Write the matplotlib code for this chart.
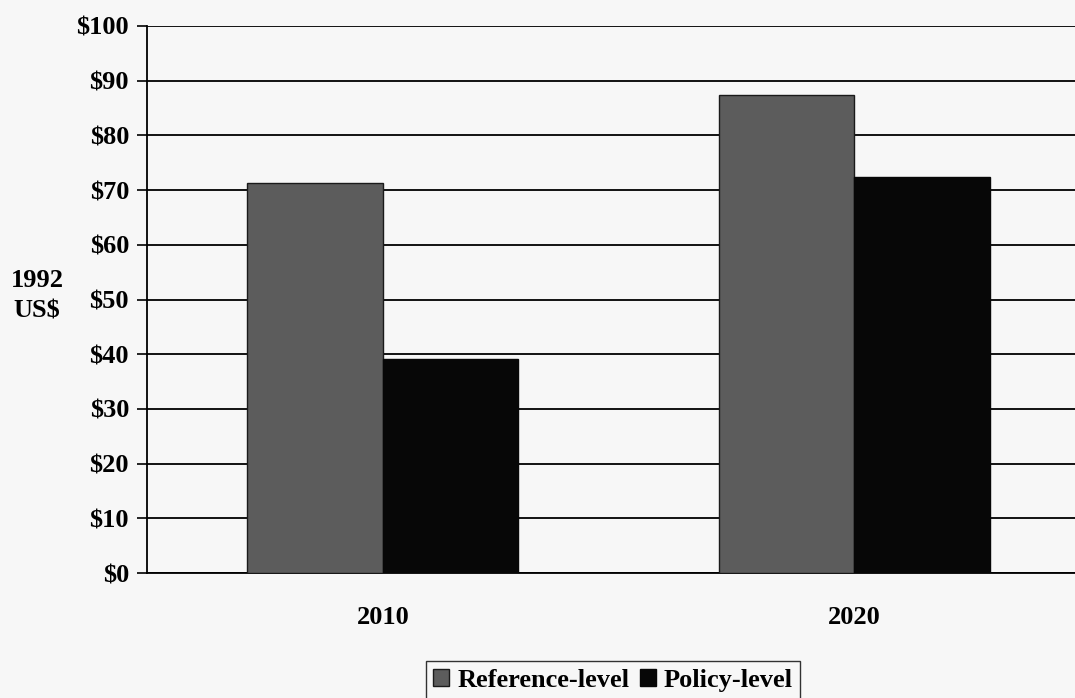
import matplotlib
matplotlib.use("Agg")
import matplotlib.pyplot as plt
import numpy as np

years = ["2010", "2020"]
reference_level = [71.3, 87.4]
policy_level = [39.1, 72.4]
y_ticks = [0, 10, 20, 30, 40, 50, 60, 70, 80, 90, 100]
y_tick_labels = [f"${v}" for v in y_ticks]

plt.rcParams["font.family"] = ["Liberation Serif", "DejaVu Serif"]
plt.rcParams["font.weight"] = "bold"

W, H = 1075, 698
fig = plt.figure(figsize=(W / 100, H / 100), dpi=100, facecolor="#f7f7f7")
ax = fig.add_axes([147 / W, 1 - 573 / H, (1075 - 147) / W, (573 - 26) / H])
ax.set_facecolor("#f7f7f7")

x = np.arange(len(years))
bw = 0.287
ax.bar(x - bw / 2, reference_level, bw, color="#5c5c5c", edgecolor="#1a1a1a",
       linewidth=1.0, label="Reference-level", zorder=3)
ax.bar(x + bw / 2, policy_level, bw, color="#070707", edgecolor="#070707",
       linewidth=1.0, label="Policy-level", zorder=3)

ax.set_xlim(-0.5, 1.468)
ax.set_ylim(0, 100)
ax.set_yticks(y_ticks)
ax.set_yticklabels(y_tick_labels, fontsize=19, fontweight="bold")
ax.yaxis.grid(True, color="black", linewidth=1.3, zorder=0)
ax.set_axisbelow(True)
ax.tick_params(axis="y", length=7, width=1.2, color="black", pad=6)
ax.set_xticks(x)
ax.set_xticklabels(years, fontsize=19, fontweight="bold")
ax.tick_params(axis="x", length=0, pad=24)
for s in ["top", "right"]:
    ax.spines[s].set_visible(False)
ax.spines["left"].set_linewidth(1.3)
ax.spines["bottom"].set_linewidth(1.3)

fig.text(37 / W, 1 - 296 / H, "1992\nUS$", ha="center", va="center",
         fontsize=19, fontweight="bold", linespacing=1.4)

leg = fig.legend(loc="upper center", bbox_to_anchor=(613 / W, 1 - 661 / H),
                 ncol=2, frameon=True, fancybox=False,
                 handlelength=0.6, handleheight=0.6, handletextpad=0.3,
                 columnspacing=0.4, borderpad=0.3, borderaxespad=0,
                 prop={"weight": "bold", "size": 19})
leg.get_frame().set_edgecolor("black")
leg.get_frame().set_facecolor("#f7f7f7")
leg.get_frame().set_linewidth(1.0)

fig.savefig("out.png", dpi=100, facecolor=fig.get_facecolor())
